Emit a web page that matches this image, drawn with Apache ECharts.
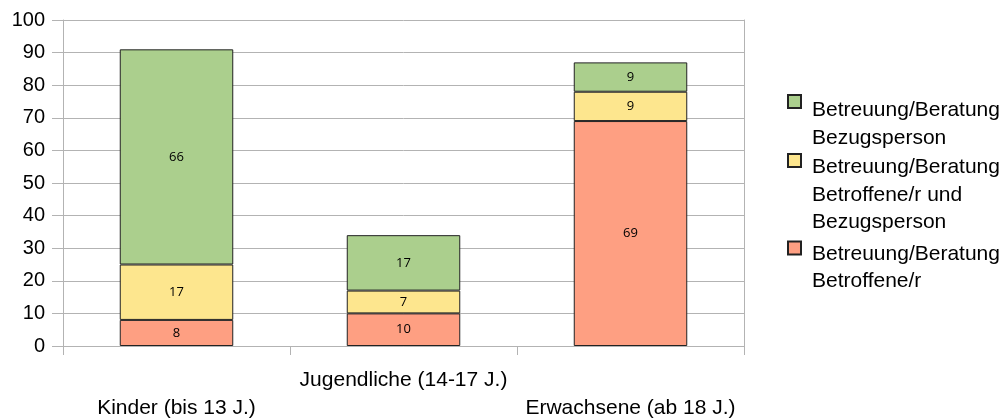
<!DOCTYPE html>
<html>
<head>
<meta charset="utf-8">
<script src="https://cdn.jsdelivr.net/npm/echarts@6/dist/echarts.min.js"></script>
<style>
  html, body { margin: 0; padding: 0; background: #fff; }
  #chart { width: 1007px; height: 418px; }
</style>
</head>
<body>
<div id="chart"></div>
<script>
// Altersgruppen
const categories = ['Kinder (bis 13 J.)', 'Jugendliche (14-17 J.)', 'Erwachsene (ab 18 J.)'];

// Fallzahlen je Betreuungsart (von unten nach oben gestapelt)
const betroffene = [8, 10, 69];
const betroffeneUndBezug = [17, 7, 9];
const bezugsperson = [66, 17, 9];

const seriesNames = [
  'Betreuung/Beratung Bezugsperson',
  'Betreuung/Beratung Betroffene/r und Bezugsperson',
  'Betreuung/Beratung Betroffene/r'
];
// Zeilenumbrüche der Legendentexte
const legendLines = [
  ['Betreuung/Beratung', 'Bezugsperson'],
  ['Betreuung/Beratung', 'Betroffene/r und', 'Bezugsperson'],
  ['Betreuung/Beratung', 'Betroffene/r']
];

const yTicks = { min: 0, max: 100, interval: 10 };

const colors = { green: '#abcf8d', yellow: '#fde68e', red: '#fe9f82' };
const gridColor = '#b3b3b3';
const FONT = '"Liberation Sans", Arial, sans-serif';

const chart = echarts.init(document.getElementById('chart'), null, { renderer: 'canvas' });

const LH = 27.5;
// Each legend entry is its own component so that the marker sits beside the
// first text line: blank spacer lines above the text balance the vertically
// centred text block against the marker.
function makeLegend(idx, top, textOffset) {
  const n = legendLines[idx].length;
  const spacerLH = LH + 2 * textOffset / (n - 1);
  const spacer = [];
  for (let i = 0; i < n - 1; i++) spacer.push('{s|\u00a0}');
  const body = legendLines[idx].map((l) => '{t|' + l + '}');
  const text = spacer.concat(body).join('\n');
  return {
    show: true,
    left: 787,
    top: top,
    padding: 0,
    orient: 'vertical',
    itemWidth: 13,
    itemHeight: 13,
    icon: 'rect',
    selectedMode: false,
    data: [seriesNames[idx]],
    formatter: () => text,
    textStyle: {
      fontFamily: FONT,
      fontSize: 21,
      color: '#000',
      padding: [0, 0, 0, 6],
      rich: {
        s: { fontFamily: FONT, fontSize: 21, lineHeight: spacerLH },
        t: { fontFamily: FONT, fontSize: 21, color: '#000', lineHeight: LH }
      }
    }
  };
}

const labelStyle = {
  show: true,
  position: 'inside',
  color: '#000',
  fontFamily: '"Open Sans", sans-serif',
  fontSize: 13
};
const barItem = (c) => ({ color: c, borderColor: '#222', borderWidth: 1 });

chart.setOption({
  animation: false,
  backgroundColor: '#fff',
  grid: {
    left: 63, right: 263, top: 20, bottom: 72,
    containLabel: false,
    outerBoundsMode: 'none'
  },
  legend: [
    makeLegend(0, 63.5, 9),
    makeLegend(1, 91.5, 7),
    makeLegend(2, 210, 6)
  ],
  xAxis: {
    type: 'category',
    data: categories,
    boundaryGap: true,
    axisLine: { show: true, lineStyle: { color: gridColor, width: 1 } },
    axisTick: { show: true, length: 9, lineStyle: { color: gridColor } },
    axisLabel: {
      interval: 0,
      margin: 20,
      color: '#000',
      fontFamily: FONT,
      fontSize: 21,
      lineHeight: 28,
      formatter: (v, i) => (i % 2 === 1 ? v : '\n' + v)
    },
    splitLine: { show: false }
  },
  yAxis: [
    {
      type: 'value',
      min: yTicks.min,
      max: yTicks.max,
      interval: yTicks.interval,
      axisLine: { show: true, lineStyle: { color: gridColor, width: 1 } },
      axisTick: { show: true, length: 11, lineStyle: { color: gridColor } },
      axisLabel: { margin: 18, color: '#000', fontFamily: FONT, fontSize: 20 },
      splitLine: { show: true, lineStyle: { color: gridColor, width: 1 } }
    },
    {
      type: 'value',
      position: 'right',
      min: yTicks.min,
      max: yTicks.max,
      interval: yTicks.interval,
      axisLine: { show: true, lineStyle: { color: gridColor, width: 1 } },
      axisTick: { show: false },
      axisLabel: { show: false },
      splitLine: { show: false }
    }
  ],
  series: [
    {
      name: seriesNames[2], type: 'bar', stack: 'total', barWidth: '50%',
      data: betroffene, itemStyle: barItem(colors.red), label: labelStyle
    },
    {
      name: seriesNames[1], type: 'bar', stack: 'total', barWidth: '50%',
      data: betroffeneUndBezug, itemStyle: barItem(colors.yellow), label: labelStyle
    },
    {
      name: seriesNames[0], type: 'bar', stack: 'total', barWidth: '50%',
      data: bezugsperson, itemStyle: barItem(colors.green), label: labelStyle
    }
  ]
});
</script>
</body>
</html>
